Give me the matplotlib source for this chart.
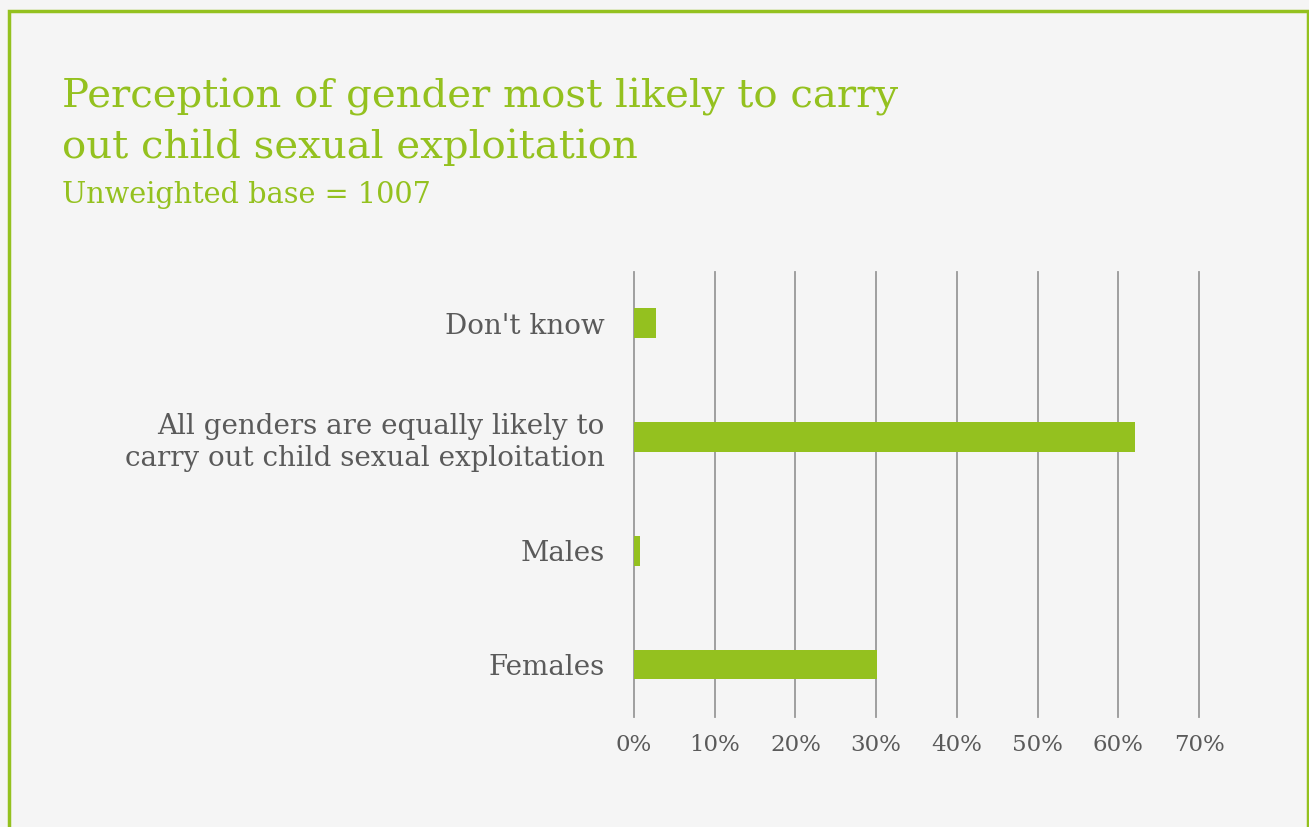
import numpy as np
import matplotlib.pyplot as plt
from matplotlib.patches import Rectangle

# data, bottom to top
categories = ["Females", "Males",
              "All genders are equally likely to\ncarry out child sexual exploitation",
              "Don't know"]
values = [30.1, 0.7, 62.1, 2.7]
x_ticks = [0, 10, 20, 30, 40, 50, 60, 70]
x_tick_labels = ["0%", "10%", "20%", "30%", "40%", "50%", "60%", "70%"]

green = "#94c11f"
grey_text = "#5a5a5a"
bg = "#f5f5f5"

plt.rcParams['font.family'] = ['DejaVu Serif']

W, H = 1309, 827
fig = plt.figure(figsize=(W / 100, H / 100), dpi=100)
fig.patch.set_facecolor(bg)

# green frame round the panel (bottom runs off the picture)
fig.patches.append(Rectangle((9 / W, -0.05), (1308 - 9) / W, 1.05 - 11 / H,
                             transform=fig.transFigure, fill=False,
                             edgecolor=green, linewidth=2.5))

# title lines placed on their baselines
fig.text(62 / W, 1 - 108 / H, "Perception of gender most likely to carry",
         color=green, fontsize=29, va="baseline", ha="left")
fig.text(62 / W, 1 - 158 / H, "out child sexual exploitation",
         color=green, fontsize=29, va="baseline", ha="left")
fig.text(62 / W, 1 - 203 / H, "Unweighted base = 1007", color=green, fontsize=20.7,
         va="baseline", ha="left")

# axes box: x 0% at px 634, 70% at px 1199; grid from y 272 to 717
left, right = 634, 1199
top, bottom = 272, 717
ax = fig.add_axes([left / W, 1 - bottom / H, (right - left) / W, (bottom - top) / H])
ax.set_facecolor(bg)

y = np.arange(len(categories))
ax.barh(y, values, height=0.26, color=green, zorder=3)

ax.set_xlim(0, 70)
ax.set_ylim(-0.46, 3.45)
ax.set_xticks(x_ticks)
ax.set_xticklabels(x_tick_labels)
ax.set_yticks(y)
ax.set_yticklabels(categories, ha="right", linespacing=1.25)

ax.grid(axis="x", color="#999999", linewidth=1.3, zorder=1)
# keep the 0% and 70% lines full width at the axes edges
for gl in ax.get_xgridlines():
    gl.set_clip_on(False)
for s in ax.spines.values():
    s.set_visible(False)
ax.tick_params(axis="both", length=0, labelcolor=grey_text)
ax.tick_params(axis="x", labelsize=16.5, pad=12)
ax.tick_params(axis="y", labelsize=20, pad=21)

fig.savefig("out.png", dpi=100, facecolor=bg)
